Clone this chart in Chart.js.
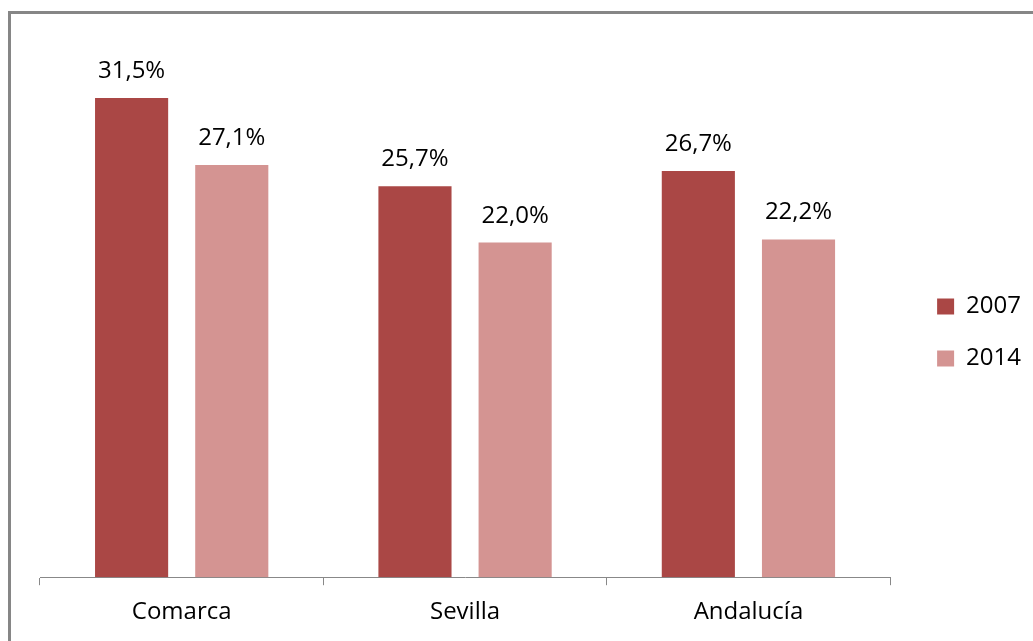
<!DOCTYPE html>
<html>
<head>
<meta charset="utf-8">
<script src="https://cdn.jsdelivr.net/npm/chart.js@4/dist/chart.umd.min.js"></script>
<style>
  html, body { margin: 0; padding: 0; background: #fff; overflow: hidden; }
  #frame { position: absolute; left: 8px; top: 11px; width: 2000px; height: 2000px; border: 3px solid #868686; }
  #wrap { position: absolute; left: 0; top: 0; width: 1033px; height: 641px; }
</style>
</head>
<body>
<div id="frame"></div>
<div id="wrap"><canvas id="myChart"></canvas></div>
<script>
// Data
const categories = ['Comarca', 'Sevilla', 'Andalucía'];
const years = ['2007', '2014'];
const values2007 = [31.5, 25.7, 26.7];
const values2014 = [27.1, 22.0, 22.2];

const FONT = '"Open Sans", "DejaVu Sans", sans-serif';

// Write the value above each bar, with a decimal comma
const barLabels = {
    id: 'barLabels',
    afterDatasetsDraw(chart) {
        const ctx = chart.ctx;
        ctx.save();
        ctx.font = '24px ' + FONT;
        ctx.fillStyle = '#000';
        ctx.textAlign = 'center';
        ctx.textBaseline = 'alphabetic';
        chart.data.datasets.forEach((ds, i) => {
            chart.getDatasetMeta(i).data.forEach((bar, j) => {
                const txt = ds.data[j].toFixed(1).replace('.', ',') + '%';
                ctx.fillText(txt, bar.x, bar.y - 20);
            });
        });
        ctx.restore();
    }
};

const ctx = document.getElementById('myChart').getContext('2d');

const myChart = new Chart(ctx, {
    type: 'bar',
    data: {
        labels: categories,
        datasets: [{
            label: years[0],
            data: values2007,
            backgroundColor: '#AA4745'
        }, {
            label: years[1],
            data: values2014,
            backgroundColor: '#D49492'
        }]
    },
    options: {
        responsive: true,
        maintainAspectRatio: false,
        animation: false,
        categoryPercentage: 0.707,
        barPercentage: 0.73,
        layout: {
            padding: { left: 40, top: 25, right: 2, bottom: 1 }
        },
        scales: {
            x: {
                grid: {
                    offset: true,
                    drawOnChartArea: false,
                    drawTicks: true,
                    tickLength: 8,
                    color: '#888'
                },
                border: { color: '#888', width: 1 },
                ticks: {
                    color: '#000',
                    padding: 13,
                    font: { family: FONT, size: 24 }
                }
            },
            y: {
                display: false,
                min: 0,
                max: 36.3
            },
            // empty spacer between the plot and the legend
            gap: {
                position: 'right',
                grid: { display: false },
                border: { display: false },
                ticks: { display: false },
                afterFit(scale) { scale.width = 19; }
            }
        },
        plugins: {
            legend: {
                position: 'right',
                labels: {
                    boxWidth: 17,
                    boxHeight: 16,
                    padding: 28,
                    color: '#000',
                    font: { family: FONT, size: 24 }
                }
            },
            tooltip: { enabled: false }
        }
    },
    plugins: [barLabels]
});
</script>
</body>
</html>
